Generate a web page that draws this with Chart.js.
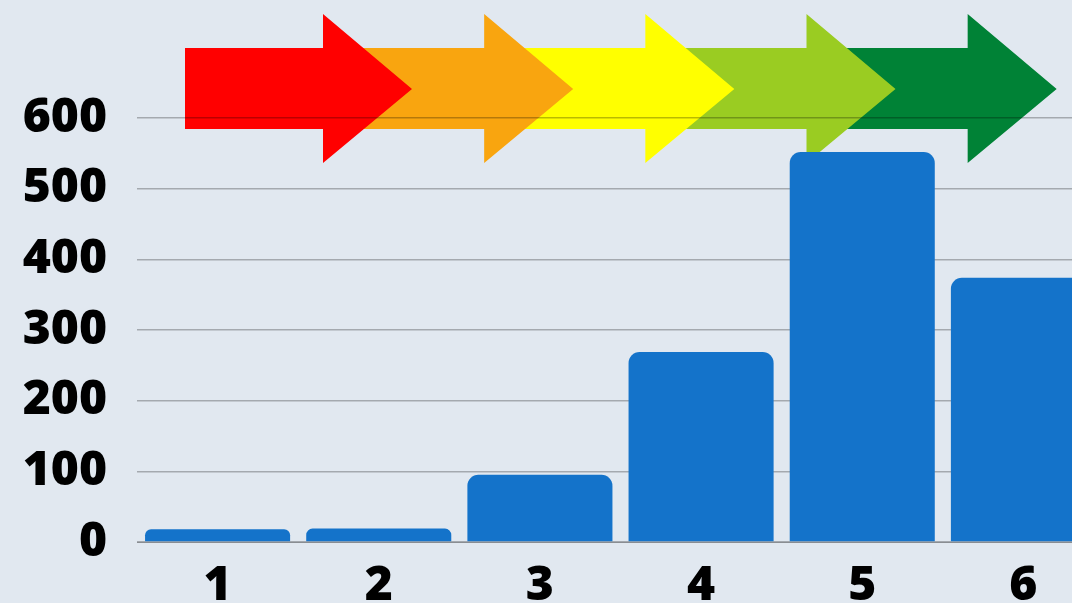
<!DOCTYPE html>
<html>
<head>
<meta charset="utf-8">
<script src="https://cdn.jsdelivr.net/npm/chart.js@4"></script>
<style>
    html, body { margin: 0; padding: 0; overflow: hidden; background: #e1e8f0; }
    #wrap { position: absolute; left: 0; top: 0; width: 1104px; height: 620px; }
</style>
</head>
<body>
<div id="wrap"><canvas id="stepChart"></canvas></div>
<script>
const stages = ['1', '2', '3', '4', '5', '6'];
const counts = [18, 19, 95, 269, 552, 374];
const yTicks = [0, 100, 200, 300, 400, 500, 600];
const arrowColors = ['#ff0000', '#f9a50f', '#ffff00', '#9acc22', '#008236'];

// progression arrows painted behind grid and bars
const arrowPlugin = {
    id: 'arrows',
    beforeDraw(chart) {
        const ctx = chart.ctx;
        const x = chart.scales.x;
        const step = x.getPixelForValue(1) - x.getPixelForValue(0);
        ctx.save();
        for (let i = arrowColors.length - 1; i >= 0; i--) {
            const left = x.getPixelForValue(i) - step / 2;
            const x0 = left + 48, xb = left + 186, xt = left + 275;
            ctx.fillStyle = arrowColors[i];
            ctx.beginPath();
            ctx.moveTo(x0, 48);
            ctx.lineTo(xb, 48);
            ctx.lineTo(xb, 14);
            ctx.lineTo(xt, 89);
            ctx.lineTo(xb, 163);
            ctx.lineTo(xb, 129);
            ctx.lineTo(x0, 129);
            ctx.closePath();
            ctx.fill();
        }
        ctx.restore();
    }
};

const tickFont = { family: '"Open Sans", sans-serif', size: 48, weight: '800' };

new Chart(document.getElementById('stepChart'), {
    type: 'bar',
    data: {
        labels: stages,
        datasets: [{
            data: counts,
            backgroundColor: '#1473ca',
            borderRadius: { topLeft: 11, topRight: 11 },
            borderSkipped: false,
            barPercentage: 0.9,
            categoryPercentage: 1
        }]
    },
    options: {
        responsive: true,
        maintainAspectRatio: false,
        animation: false,
        layout: { padding: { top: 118, right: 0, bottom: 0, left: 0 } },
        plugins: { legend: { display: false }, tooltip: { enabled: false } },
        scales: {
            x: {
                grid: { display: false },
                border: { display: true, color: 'rgba(0,0,0,0.3)', width: 1 },
                ticks: { color: '#000', font: tickFont, padding: 8, maxRotation: 0 },
                afterFit(scale) { scale.height = 78; }
            },
            y: {
                min: 0,
                max: 600,
                afterBuildTicks(scale) { scale.ticks = yTicks.map(v => ({ value: v })); },
                grid: { color: 'rgba(0,0,0,0.27)', lineWidth: 1.5, drawTicks: false },
                border: { display: false },
                ticks: { color: '#000', font: tickFont, padding: 30 },
                afterFit(scale) { scale.width = 137; }
            }
        }
    },
    plugins: [arrowPlugin]
});
</script>
</body>
</html>
